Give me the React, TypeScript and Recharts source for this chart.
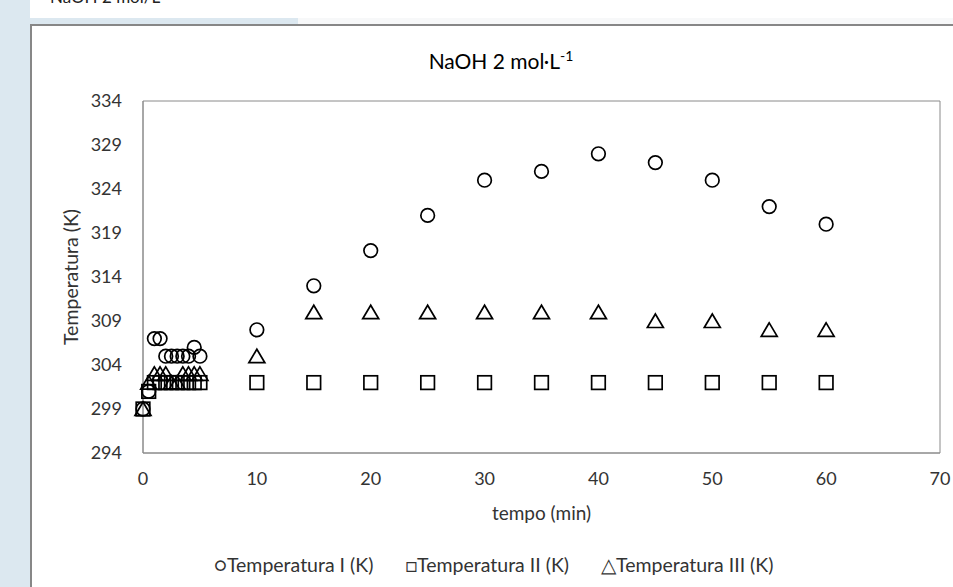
import React from "react";
import {
  ScatterChart,
  Scatter,
  XAxis,
  YAxis,
  ReferenceArea,
} from "recharts";

// tempo (min)
const tempo = [0, 0.5, 1, 1.5, 2, 2.5, 3, 3.5, 4, 4.5, 5, 10, 15, 20, 25, 30, 35, 40, 45, 50, 55, 60];
// Temperatura I (K)
const tempI = [299, 301, 307, 307, 305, 305, 305, 305, 305, 306, 305, 308, 313, 317, 321, 325, 326, 328, 327, 325, 322, 320];
// Temperatura II (K)
const tempII = [299, 301, 302, 302, 302, 302, 302, 302, 302, 302, 302, 302, 302, 302, 302, 302, 302, 302, 302, 302, 302, 302];
// Temperatura III (K)
const tempIII = [299, 302, 303, 303, 303, 302, 302, 303, 303, 303, 303, 305, 310, 310, 310, 310, 310, 310, 309, 309, 308, 308];

const xTicks = [0, 10, 20, 30, 40, 50, 60, 70];
const yTicks = [294, 299, 304, 309, 314, 319, 324, 329, 334];

const toPoints = (vals: number[]) => tempo.map((t, i) => ({ t, T: vals[i] }));

const FONT = "Lato, 'Open Sans', sans-serif";
const TEXT = "#333";
const BLUE = "#dce8f0";

const CircleMark = (p: any) => (
  <circle cx={p.cx} cy={p.cy} r={6.8} fill="none" stroke="#000" strokeWidth={1.7} />
);
const SquareMark = (p: any) => (
  <rect x={p.cx - 6.8} y={p.cy - 6.8} width={13.6} height={13.6} fill="none" stroke="#000" strokeWidth={1.7} />
);
const TriangleMark = (p: any) => (
  <polygon
    points={`${p.cx},${p.cy - 7} ${p.cx - 8},${p.cy + 6.5} ${p.cx + 8},${p.cy + 6.5}`}
    fill="none"
    stroke="#000"
    strokeWidth={1.7}
  />
);

export default function App() {
  return (
    <div
      style={{
        position: "absolute",
        left: 0,
        top: 0,
        width: 953,
        height: 587,
        overflow: "hidden",
        background: "#fff",
        fontFamily: FONT,
      }}
    >
      <div style={{ position: "absolute", left: 0, top: 0, width: 30, height: 587, background: BLUE }} />
      <div style={{ position: "absolute", left: 30, top: 18, width: 268, height: 6, background: BLUE }} />
      <div style={{ position: "absolute", left: 298, top: 18, width: 655, height: 6, background: "#f7f8f9" }} />
      <div style={{ position: "absolute", left: 50, top: -14, fontSize: 17, color: "#222", whiteSpace: "nowrap" }}>
        NaOH 2 mol/L
      </div>
      <div
        style={{
          position: "absolute",
          left: 30,
          top: 24,
          width: 960,
          height: 600,
          background: "#fff",
          borderTop: "2px solid #878787",
          borderLeft: "2px solid #878787",
        }}
      />
      <div
        style={{
          position: "absolute",
          left: 0,
          width: 1002,
          top: 47,
          textAlign: "center",
          fontSize: 21,
          color: "#000",
          whiteSpace: "nowrap",
        }}
      >
        NaOH 2 mol·L<sup style={{ fontSize: 14 }}>-1</sup>
      </div>

      <div style={{ position: "absolute", left: 0, top: 0 }}>
        <ScatterChart width={953} height={587} margin={{ top: 101, right: 13, bottom: 94, left: 83 }}>
          <ReferenceArea x1={0} x2={70} y1={294} y2={334} fill="none" stroke="#8a8a8a" strokeWidth={1} />
          <XAxis
            type="number"
            dataKey="t"
            domain={[0, 70]}
            ticks={xTicks}
            interval={0}
            height={40}
            tickLine={false}
            axisLine={{ stroke: "#8a8a8a" }}
            tickMargin={13}
            tick={{ fontSize: 18, fill: TEXT, fontFamily: FONT }}
            label={{ value: "tempo (min)", position: "insideBottom", offset: -27, fontSize: 19, fill: TEXT, fontFamily: FONT }}
          />
          <YAxis
            type="number"
            dataKey="T"
            domain={[294, 334]}
            ticks={yTicks}
            interval={0}
            width={60}
            tickLine={false}
            axisLine={{ stroke: "#8a8a8a" }}
            tickMargin={15}
            tick={{ fontSize: 18, fill: TEXT, fontFamily: FONT }}
            label={{
              value: "Temperatura (K)",
              angle: -90,
              position: "insideLeft",
              offset: -12,
              style: { textAnchor: "middle" },
              fontSize: 19.5,
              fill: TEXT,
              fontFamily: FONT,
            }}
          />
          <Scatter name="Temperatura I (K)" data={toPoints(tempI)} shape={CircleMark} isAnimationActive={false} />
          <Scatter name="Temperatura II (K)" data={toPoints(tempII)} shape={SquareMark} isAnimationActive={false} />
          <Scatter name="Temperatura III (K)" data={toPoints(tempIII)} shape={TriangleMark} isAnimationActive={false} />
        </ScatterChart>
      </div>

      <div
        style={{
          position: "absolute",
          left: 214,
          top: 553,
          display: "flex",
          gap: 32,
          fontSize: 19.5,
          color: TEXT,
          whiteSpace: "nowrap",
        }}
      >
        <span>○Temperatura I (K)</span>
        <span>□Temperatura II (K)</span>
        <span>△Temperatura III (K)</span>
      </div>
    </div>
  );
}
